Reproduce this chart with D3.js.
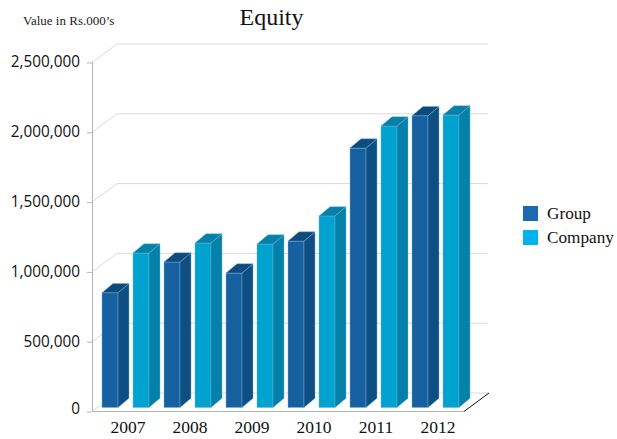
<!DOCTYPE html>
<html><head><meta charset="utf-8">
<script src="https://cdn.jsdelivr.net/npm/d3@7"></script>
<style>html,body{margin:0;padding:0;background:#fff}svg{display:block}</style>
</head><body><svg id="c" width="617" height="439"></svg>
<script>
const categories = ["2007","2008","2009","2010","2011","2012"];
const seriesNames = ["Group","Company"];
const groupValues = [822000,1042000,963000,1192000,1858000,2090000];
const companyValues = [1106000,1178000,1171000,1372000,2016000,2095000];
const tickValues = [0,500000,1000000,1500000,2000000,2500000];
const frontColors = ["#1760a0","#00a2d0"];
const sideColors = ["#0e4f83","#0381a8"];
const topColors = ["#0d4a7d","#0680a6"];
const legendColors = ["#1b68b3","#00b3ee"];

const svg = d3.select("#c");
const serif = "'Liberation Serif',serif", sans = "'Open Sans',sans-serif";
const depthX = 25, depthY = 18.5, barDX = 11, barDY = 9.3, baseLift = 3.5;
const y = d3.scaleLinear().domain([0,2500000]).range([411,62]);
const x0 = d3.scaleBand().domain(categories).range([97,469]);
const x1 = d3.scaleBand().domain(seriesNames).range([5,67]);
const barW = 16, axisX = 92, floorEnd = 464;

// gridlines on side and back walls
const grid = svg.append("g").attr("fill","none").attr("stroke","#d9d9d9");
tickValues.forEach(t=>{
  const p = y(t)+.5;
  grid.append("path").attr("d",`M${axisX},${p}L${axisX+depthX},${p-depthY}H${floorEnd+depthX-1}`);
});
// axis
svg.append("path").attr("fill","none").attr("stroke","#b4b4b4")
  .attr("d",`M${axisX+.5},${y(2500000)}V${y(0)+.5}H${floorEnd}`);
const yAxis = d3.axisLeft(y).tickValues(tickValues).tickSize(5).tickPadding(7).tickFormat(d3.format(","));
const ga = svg.append("g").attr("transform",`translate(${axisX},0.5)`).call(yAxis);
ga.select(".domain").remove();
ga.selectAll("line").attr("stroke","#b4b4b4");
ga.selectAll("text").attr("font-family",sans).attr("font-size",17).attr("fill","#111")
  .attr("dy",d=>d===0?"1.5px":"4.3px")
  .each(function(){
    const w = this.getComputedTextLength();
    d3.select(this).attr("lengthAdjust","spacingAndGlyphs").attr("textLength",w*0.9);
  });
svg.append("path").attr("fill","none").attr("stroke","#111")
  .attr("d",`M${floorEnd},${y(0)+.5}L${floorEnd+depthX},${y(0)-depthY+.5}`);

// bars
const bars = [groupValues,companyValues];
seriesNames.forEach((s,si)=>{
  categories.forEach((c,i)=>{
    const v = bars[si][i], bx = x0(c)+x1(s), top = y(v)-baseLift, bot = y(0)-baseLift;
    const g = svg.append("g").attr("stroke","#6fb4d8").attr("stroke-opacity",.55).attr("stroke-width",.8);
    g.append("rect").attr("x",bx).attr("y",top).attr("width",barW).attr("height",bot-top).attr("fill",frontColors[si]);
    g.append("path").attr("fill",sideColors[si]).attr("d",`M${bx+barW},${top}l${barDX},${-barDY}V${bot-barDY}l${-barDX},${barDY}Z`);
    g.append("path").attr("fill",topColors[si]).attr("d",`M${bx},${top}l${barDX},${-barDY}h${barW}l${-barDX},${barDY}Z`);
  });
});

// category labels
svg.append("g").selectAll("text").data(categories).join("text")
  .attr("x",d=>x0(d)+x0.bandwidth()/2).attr("y",433).attr("text-anchor","middle")
  .attr("font-family",serif).attr("font-size",17.5).attr("fill","#111").text(d=>d);

svg.append("text").attr("x",271.5).attr("y",25).attr("text-anchor","middle")
  .attr("font-family",serif).attr("font-size",24).attr("fill","#111").text("Equity");
svg.append("text").attr("x",23).attr("y",25)
  .attr("font-family",serif).attr("font-size",13).attr("fill","#222").text("Value in Rs.000’s");

// legend
const lg = svg.append("g").selectAll("g").data(seriesNames).join("g")
  .attr("transform",(d,i)=>`translate(523,${206+i*24})`);
lg.append("rect").attr("width",15).attr("height",15).attr("fill",(d,i)=>legendColors[i]);
lg.append("text").attr("x",24).attr("y",13).attr("font-family",serif).attr("font-size",17.2).attr("fill","#111").text(d=>d);
</script></body></html>
